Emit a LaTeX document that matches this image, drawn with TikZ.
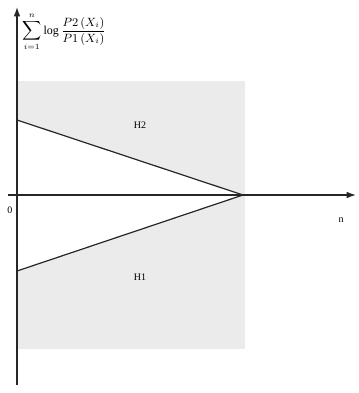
\documentclass[tikz,border=0pt]{standalone}
\usepackage{fontspec}
\setmainfont{Liberation Serif}
\usetikzlibrary{arrows.meta}
\begin{document}
\begin{tikzpicture}[x=0.75pt,y=-0.75pt,
  axis/.style={line width=1pt,draw=black!85,-{Latex[length=7pt,width=5pt]}},
  edge/.style={line width=0.9pt,draw=black!85},
  lbl/.style={font=\fontsize{7.5}{9}\selectfont,inner sep=1pt},
  region/.style={fill=black!8,draw=none}]
\useasboundingbox (0,0) rectangle (358,393);
% shaded region
\fill[region] (17,81) rectangle (245,349);
% triangle (white interior)
\coordinate (tl) at (17,120);
\coordinate (apex) at (243,195);
\coordinate (bl) at (17,271);
\fill[white] (tl) -- (apex) -- (bl) -- cycle;
\draw[edge] (tl) -- (apex) -- (bl);
% axes
\coordinate (yb) at (17,385);
\coordinate (yt) at (17,7);
\coordinate (xl) at (8,195);
\coordinate (xr) at (356,195);
\draw[axis] (yb) -- (yt);
\draw[axis] (xl) -- (xr);
% labels
\node[lbl] (h2) at (140,125) {H2};
\node[lbl] (h1) at (140,277) {H1};
\node[lbl] (zero) at (10,210) {0};
\node[lbl] (n) at (341,220) {n};
\node[font=\fontsize{9}{11}\selectfont,anchor=west,inner sep=0pt] (f) at (22,32)
  {$\displaystyle\sum_{i=1}^{n}\log\frac{P2\,(X_i)}{P1\,(X_i)}$};
\end{tikzpicture}
\end{document}
